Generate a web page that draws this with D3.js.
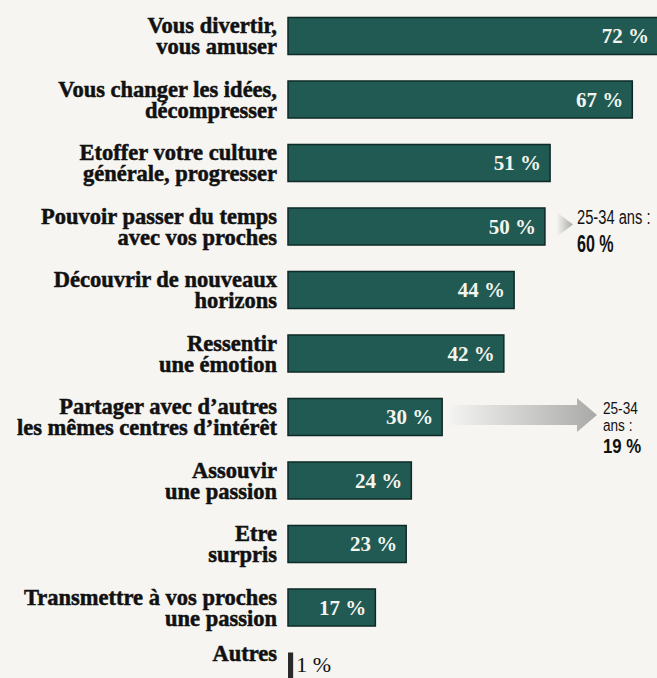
<!DOCTYPE html>
<html>
<head>
<meta charset="utf-8">
<script src="https://cdn.jsdelivr.net/npm/d3@7"></script>
<style>
  html, body { margin: 0; padding: 0; background: #f6f5f1; }
  svg { display: block; }
</style>
</head>
<body>
<div id="chart"></div>
<script>
// données
var categories = [
  "Vous divertir,\nvous amuser",
  "Vous changer les idées,\ndécompresser",
  "Etoffer votre culture\ngénérale, progresser",
  "Pouvoir passer du temps\navec vos proches",
  "Découvrir de nouveaux\nhorizons",
  "Ressentir\nune émotion",
  "Partager avec d’autres\nles mêmes centres d’intérêt",
  "Assouvir\nune passion",
  "Etre\nsurpris",
  "Transmettre à vos proches\nune passion",
  "Autres"
];
var values = [72, 67, 51, 50, 44, 42, 30, 24, 23, 17, 1];
var valueLabels = ["72 %", "67 %", "51 %", "50 %", "44 %", "42 %", "30 %", "24 %", "23 %", "17 %", "1 %"];

// encadrés 25-34 ans
var noteRows = [3, 6];
var noteLines = [["25-34 ans :"], ["25-34", "ans :"]];
var noteValues = ["60 %", "19 %"];

var width = 657, height = 678;

var svg = d3.select("#chart").append("svg")
  .attr("width", width)
  .attr("height", height);

var x = d3.scaleLinear()
  .domain([0, 72])
  .range([288, 658]);

var y = d3.scaleBand()
  .domain(categories)
  .range([4.25, 4.25 + 63.5 * categories.length])
  .paddingInner(0.417)
  .paddingOuter(0.2085);

var defs = svg.append("defs");
var grad = defs.append("linearGradient")
  .attr("id", "arrowGrad")
  .attr("x1", "0%").attr("x2", "100%");
grad.append("stop").attr("offset", "0%").attr("stop-color", "#f3f3f1");
grad.append("stop").attr("offset", "100%").attr("stop-color", "#a9a9a7");

// flèches grises vers les encadrés
var last = categories.length - 1;
noteRows.forEach(function(r, k) {
  var cy = y(categories[r]) + y.bandwidth() / 2 - 2;
  var x0 = x(values[r]) + 8;
  var tip = k == 0 ? 573 : 597;
  var head = k == 0 ? 16 : 20;
  var half = k == 0 ? 11 : 10;
  var path = d3.path();
  if (k == 0) {
    path.moveTo(tip - head, cy - 12);
    path.lineTo(tip, cy);
    path.lineTo(tip - head, cy + 12);
    path.closePath();
  } else {
    path.moveTo(x0, cy - half);
    path.lineTo(tip - head, cy - half);
    path.lineTo(tip - head, cy - 17);
    path.lineTo(tip, cy);
    path.lineTo(tip - head, cy + 17);
    path.lineTo(tip - head, cy + half);
    path.lineTo(x0, cy + half);
    path.closePath();
  }
  svg.append("path")
    .attr("d", path.toString())
    .attr("fill", "url(#arrowGrad)");
});

// barres
svg.append("g").selectAll("rect")
  .data(categories)
  .join("rect")
  .attr("x", x(0))
  .attr("y", d => y(d))
  .attr("width", (d, i) => x(values[i]) - x(0))
  .attr("height", y.bandwidth())
  .attr("fill", (d, i) => i == last ? "#2a2a2a" : "#215a53")
  .attr("stroke", (d, i) => i == last ? "none" : "#0e2a27")
  .attr("stroke-width", 1.5);

// libellés à gauche
var labels = svg.append("g")
  .attr("font-family", "'Liberation Serif', 'Times New Roman', serif")
  .attr("font-weight", "bold")
  .attr("font-size", 22.5)
  .attr("fill", "#111")
  .attr("stroke", "#111")
  .attr("stroke-width", 0.5)
  .attr("text-anchor", "end");

categories.forEach(function(c, i) {
  var lines = c.split("\n");
  var cy = y(c) + y.bandwidth() / 2;
  var t = labels.append("text");
  lines.forEach(function(line, j) {
    t.append("tspan")
      .attr("x", 277)
      .attr("y", lines.length == 1 ? cy - 10 : cy - 3 + j * 21)
      .text(line);
  });
});

// valeurs
svg.append("g").selectAll("text")
  .data(categories)
  .join("text")
  .attr("font-family", "'Liberation Serif', 'Times New Roman', serif")
  .attr("font-weight", (d, i) => i == last ? "normal" : "bold")
  .attr("font-size", (d, i) => i == last ? 22 : 21)
  .attr("fill", (d, i) => i == last ? "#111" : "#f4f4ee")
  .attr("text-anchor", (d, i) => i == last ? "start" : "end")
  .attr("x", (d, i) => i == last ? x(values[i]) + 3 : x(values[i]) - 9)
  .attr("y", (d, i) => y(d) + y.bandwidth() / 2 + (i == last ? 1 : 7))
  .text((d, i) => valueLabels[i]);

// encadrés 25-34 ans (police étroite simulée par un scale horizontal)
noteRows.forEach(function(r, k) {
  var cy = y(categories[r]) + y.bandwidth() / 2;
  var nx = k == 0 ? 577 : 603;
  var sx = k == 0 ? 0.7 : 0.8;
  var lh = k == 0 ? 0 : 17;
  var y0 = k == 0 ? cy - 2 : cy - 3;
  var g = svg.append("g")
    .attr("transform", `translate(${nx},0) scale(${sx},1)`)
    .attr("font-family", "'Liberation Sans', Arial, sans-serif")
    .attr("fill", "#111");
  noteLines[k].forEach(function(line, j) {
    g.append("text")
      .attr("x", 0)
      .attr("y", y0 + j * lh)
      .attr("font-size", k == 0 ? 21 : 17)
      .text(line);
  });
  g.append("text")
    .attr("x", 0)
    .attr("y", k == 0 ? cy + 26 : cy + 36)
    .attr("font-size", k == 0 ? 23 : 21)
    .attr("font-weight", "bold")
    .text(noteValues[k]);
});
</script>
</body>
</html>
